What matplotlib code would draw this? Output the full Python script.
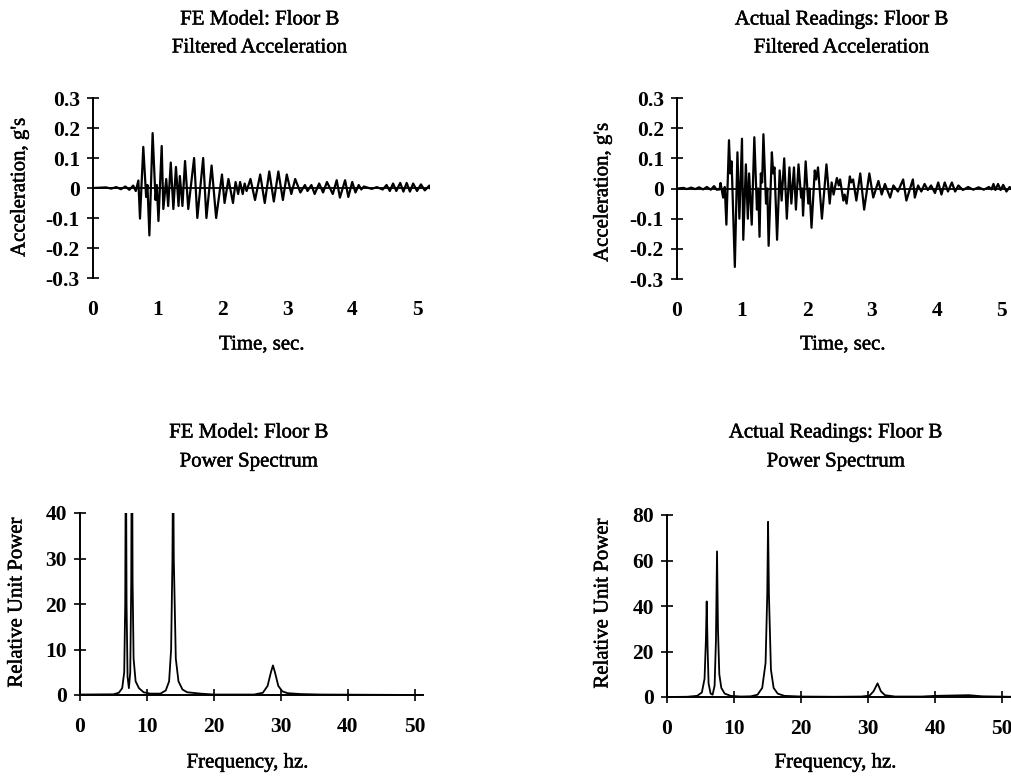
import numpy as np
import matplotlib
matplotlib.use('Agg')
import matplotlib.pyplot as plt
import matplotlib.patheffects as pe

plt.rcParams['font.family'] = ['Liberation Serif', 'DejaVu Serif']

# FE model acceleration (time s, accel g) - extrema
fe_t = [0.00, 0.20, 0.28, 0.36, 0.43, 0.50, 0.56, 0.62, 0.66, 0.70, 0.725, 0.776,
        0.82, 0.84, 0.87, 0.92, 0.965, 0.985, 1.01, 1.06, 1.085, 1.13, 1.16, 1.20,
        1.24, 1.28, 1.32, 1.34, 1.38, 1.42, 1.47, 1.56, 1.61, 1.70, 1.75, 1.83,
        1.90, 1.99, 2.03, 2.09, 2.16, 2.20, 2.24, 2.27, 2.31, 2.34, 2.37, 2.43,
        2.50, 2.58, 2.65, 2.72, 2.79, 2.86, 2.93, 2.99, 3.06, 3.12, 3.20, 3.27,
        3.31, 3.37, 3.42, 3.49, 3.55, 3.61, 3.70, 3.76, 3.81, 3.89, 3.94, 4.00,
        4.05, 4.10, 4.14, 4.18, 4.30, 4.38, 4.47, 4.53, 4.58, 4.63, 4.68, 4.74,
        4.79, 4.84, 4.89, 4.94, 5.00, 5.06, 5.12, 5.19, 5.20]
fe_acc = [0.0, 0.002, -0.002, 0.003, -0.004, 0.005, -0.006, 0.008, -0.01, 0.025, -0.102, 0.137,
          -0.03, 0.01, -0.158, 0.183, -0.04, 0.01, -0.11, 0.14, -0.07, 0.03, -0.06, 0.085,
          -0.07, 0.07, -0.06, 0.04, -0.06, 0.09, -0.07, 0.10, -0.10, 0.10, -0.10, 0.075,
          -0.10, 0.045, -0.05, 0.03, -0.05, 0.02, -0.02, 0.02, -0.02, 0.015, -0.01, 0.03,
          -0.04, 0.045, -0.05, 0.055, -0.045, 0.055, -0.04, 0.045, -0.02, 0.03, -0.015, 0.01,
          -0.01, 0.01, -0.02, 0.015, -0.015, 0.02, -0.02, 0.026, -0.032, 0.026, -0.03, 0.02,
          -0.015, 0.01, -0.005, 0.005, -0.003, 0.003, -0.005, 0.01, -0.01, 0.015, -0.01, 0.017,
          -0.012, 0.017, -0.012, 0.015, -0.01, 0.012, -0.008, 0.008, 0.0]

# actual readings acceleration
act_t = [0.00, 0.10, 0.15, 0.22, 0.28, 0.34, 0.40, 0.46, 0.52, 0.57, 0.61, 0.655,
         0.67, 0.71, 0.735, 0.76, 0.80, 0.82, 0.84, 0.89, 0.93, 0.96, 1.00, 1.02,
         1.06, 1.09, 1.11, 1.15, 1.19, 1.23, 1.25, 1.27, 1.29, 1.31, 1.33, 1.37,
         1.39, 1.41, 1.46, 1.48, 1.50, 1.54, 1.58, 1.61, 1.65, 1.69, 1.73, 1.76,
         1.80, 1.83, 1.87, 1.91, 1.925, 1.94, 1.98, 2.02, 2.04, 2.07, 2.12, 2.14,
         2.17, 2.23, 2.30, 2.35, 2.38, 2.41, 2.46, 2.49, 2.51, 2.56, 2.58, 2.61,
         2.66, 2.68, 2.71, 2.76, 2.82, 2.88, 2.96, 3.02, 3.10, 3.15, 3.20, 3.28,
         3.33, 3.40, 3.48, 3.53, 3.63, 3.66, 3.71, 3.76, 3.81, 3.86, 3.91, 3.97,
         4.02, 4.07, 4.12, 4.17, 4.23, 4.28, 4.33, 4.40, 4.48, 4.56, 4.64, 4.72,
         4.80, 4.84, 4.87, 4.90, 4.94, 4.98, 5.02, 5.07, 5.12, 5.14]
act_acc = [0.0, 0.002, -0.002, 0.003, -0.002, 0.004, -0.003, 0.005, -0.004, 0.008, -0.004, -0.003,
           0.018, -0.03, 0.005, -0.12, 0.16, 0.05, 0.09, -0.26, 0.12, -0.10, 0.165, -0.17,
           0.08, -0.10, 0.05, -0.12, 0.17, -0.07, 0.0, -0.16, 0.05, 0.02, 0.18, -0.05,
           0.0, -0.19, 0.12, 0.05, 0.07, -0.17, 0.06, -0.04, 0.10, -0.10, 0.07, -0.05,
           0.07, -0.07, 0.08, -0.03, 0.0, -0.09, 0.09, -0.05, 0.0, -0.13, 0.06, 0.03,
           0.07, -0.10, 0.08, -0.05, 0.02, -0.02, 0.035, 0.01, 0.03, -0.04, -0.02, -0.05,
           0.04, 0.02, 0.03, -0.04, 0.05, -0.07, 0.05, -0.03, 0.025, -0.02, 0.015, -0.03,
           0.01, -0.01, 0.03, -0.04, 0.03, -0.03, 0.01, -0.01, 0.015, -0.005, 0.01, -0.015,
           0.02, -0.02, 0.02, -0.01, 0.02, -0.01, 0.01, -0.005, 0.005, -0.004, 0.004, -0.004,
           0.005, -0.003, 0.015, -0.005, 0.015, -0.005, 0.012, -0.01, 0.005, 0.0]

# power spectra (frequency hz, relative unit power)
fe_f = [0, 5, 5.8, 6.3, 6.6, 6.75, 6.85, 6.95, 7.1, 7.3, 7.5, 7.65, 7.75, 7.85, 8.0,
        8.3, 8.8, 9.5, 10.5, 12, 12.8, 13.3, 13.6, 13.8, 13.9, 14.0, 14.3, 14.7, 15.3,
        16, 18, 20, 26, 27.3, 28, 28.5, 28.8, 29.1, 29.6, 30.2, 31, 33, 36, 51]
fe_pow = [0.1, 0.15, 0.5, 1.5, 5, 20, 60, 20, 4, 1.5, 5, 25, 70, 25, 8,
          3, 1.5, 0.6, 0.3, 0.3, 1, 3, 10, 30, 55, 30, 8, 3, 1.2,
          0.6, 0.3, 0.1, 0.1, 0.5, 2, 5, 6.5, 5, 2, 0.8, 0.4, 0.2, 0.1, 0.0]

act_f = [0, 3, 4.5, 5.2, 5.6, 5.8, 5.92, 6.05, 6.2, 6.5, 6.8, 7.1, 7.3, 7.46, 7.6,
         7.8, 8.1, 8.6, 9.5, 11, 12.5, 13.5, 14.2, 14.7, 14.95, 15.07, 15.2, 15.5, 15.9,
         16.5, 17.5, 20, 25, 29, 30.2, 30.8, 31.4, 31.9, 32.5, 34, 38, 40, 45, 47, 51.3]
act_pow = [0.0, 0.1, 0.5, 2, 8, 25, 42, 22, 6, 1.5, 1, 5, 25, 64, 30,
           10, 4, 1.5, 0.5, 0.2, 0.3, 1, 4, 15, 45, 77, 45, 12, 4,
           1.5, 0.5, 0.2, 0.1, 0.2, 0.6, 2.5, 6, 2.5, 0.8, 0.2, 0.2, 0.5, 0.8, 0.3, 0.1]

W, H = 1011, 778
fig = plt.figure(figsize=(W / 100, H / 100), dpi=100)

TICK_FS = 15.5
LAB_FS = 15
# thicken regular text a little, like the scanned original
INK = [pe.withStroke(linewidth=0.35, foreground='black')]


def box(l, r, t, b):
    return [l / W, 1 - b / H, (r - l) / W, (b - t) / H]


def accel_axes(pos, t, a, xmax):
    ax = fig.add_axes(pos)
    ax.plot(t, a, color='black', lw=1.6)
    ax.axhline(0, color='black', lw=1.3)
    ax.set_xlim(0, xmax)
    ax.set_ylim(-0.3, 0.3)
    ax.set_yticks([-0.3, -0.2, -0.1, 0, 0.1, 0.2, 0.3])
    ax.set_yticklabels(['-0.3', '-0.2', '-0.1', '0', '0.1', '0.2', '0.3'])
    ax.set_xticks([0, 1, 2, 3, 4, 5])
    for s in ['top', 'right', 'bottom']:
        ax.spines[s].set_visible(False)
    ax.spines['left'].set_linewidth(1.4)
    ax.tick_params(axis='y', direction='inout', length=9, width=1.2, pad=5,
                   labelsize=TICK_FS)
    ax.tick_params(axis='x', length=0, pad=16, labelsize=TICK_FS)
    for lab in ax.get_xticklabels() + ax.get_yticklabels():
        lab.set_fontweight('bold')
    return ax


def spec_axes(pos, f, p, ymax, ystep, xmax):
    ax = fig.add_axes(pos)
    ax.plot(f, p, color='black', lw=1.3)
    ax.set_xlim(0, xmax)
    ax.set_ylim(0, ymax)
    ax.set_yticks(np.arange(0, ymax + 1, ystep))
    ax.set_xticks([0, 10, 20, 30, 40, 50])
    for s in ['top', 'right']:
        ax.spines[s].set_visible(False)
    ax.spines['left'].set_linewidth(1.4)
    ax.spines['bottom'].set_linewidth(1.4)
    ax.tick_params(direction='inout', length=9, width=1.2, labelsize=TICK_FS)
    ax.tick_params(axis='x', pad=11)
    ax.tick_params(axis='y', pad=5)
    for lab in ax.get_xticklabels() + ax.get_yticklabels():
        lab.set_fontweight('bold')
    return ax


accel_axes(box(93, 430, 98, 278), fe_t, fe_acc, 5.2)
accel_axes(box(677, 1011, 98, 279), act_t, act_acc, 5.14)
spec_axes(box(80, 423, 513, 695), fe_f, fe_pow, 40, 10, 51.2)
spec_axes(box(667, 1011, 515, 697), act_f, act_pow, 80, 20, 51.3)


def ftext(x, y, s, **kw):
    fig.text(x / W, 1 - y / H, s, ha='center', va='center', fontsize=LAB_FS,
             path_effects=INK, **kw)


ftext(260, 20, 'FE Model: Floor B')
ftext(260, 48, 'Filtered Acceleration')
ftext(842, 20, 'Actual Readings: Floor B')
ftext(842, 48, 'Filtered Acceleration')
ftext(249, 433, 'FE Model: Floor B')
ftext(249, 462, 'Power Spectrum')
ftext(836, 433, 'Actual Readings: Floor B')
ftext(836, 462, 'Power Spectrum')

ftext(262, 345, 'Time, sec.')
ftext(843, 345, 'Time, sec.')
ftext(248, 763, 'Frequency, hz.')
ftext(836, 763, 'Frequency, hz.')

ftext(20, 187, "Acceleration, g's", rotation=90)
ftext(603, 192, "Acceleration, g's", rotation=90)
ftext(17, 602, 'Relative Unit Power', rotation=90)
ftext(603, 603, 'Relative Unit Power', rotation=90)

fig.savefig('out.png', dpi=100)
